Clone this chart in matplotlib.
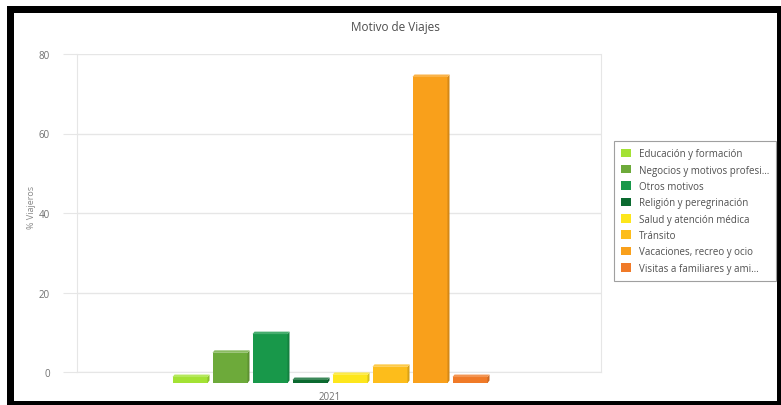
import matplotlib
matplotlib.use('Agg')
import matplotlib.pyplot as plt
from matplotlib.patches import Rectangle, Polygon
from matplotlib.transforms import IdentityTransform
import matplotlib.colors as mcolors
import numpy as np

plt.rcParams['font.family'] = ['Open Sans', 'DejaVu Sans']

title = "Motivo de Viajes"
categories = ["2021"]
series_names = ["Educación y formación", "Negocios y motivos profesi…", "Otros motivos",
                "Religión y peregrinación", "Salud y atención médica", "Tránsito",
                "Vacaciones, recreo y ocio", "Visitas a familiares y ami…"]
values = [1.4, 7.1, 11.5, 0.7, 1.9, 3.8, 72.0, 1.4]
colors = ["#a3e234", "#6daa3a", "#18984a", "#0b6a30", "#fde61c", "#fdbd1b", "#f9a01b", "#f07a28"]
y_ticks = [0, 20, 40, 60, 80]
y_label = "% Viajeros"

W, H = 781, 406
fig = plt.figure(figsize=(W / 100, H / 100), dpi=100)
fig.patch.set_facecolor('white')


def box(x0, y0, x1, y1):
    return [x0 / W, 1 - y1 / H, (x1 - x0) / W, (y1 - y0) / H]


# black frame
for (x0, y0, x1, y1) in [(7, 7, 781, 14), (7, 7, 14, 406), (777, 7, 781, 406), (7, 402, 781, 406)]:
    fig.add_artist(Rectangle((x0 / W, 1 - y1 / H), (x1 - x0) / W, (y1 - y0) / H,
                             transform=fig.transFigure, color='black', lw=0))

# back wall axes
L, R, T, B = 77, 601, 55, 373
ax = fig.add_axes(box(L, T, R, B))
ax.set_facecolor('none')
xl = (-(330 - L) / (R - L), (R - 330) / (R - L))
ax.set_xlim(*xl)
ax.set_ylim(0, 80)
ax.set_yticks(y_ticks)
ax.set_xticks([0])
ax.set_xticklabels(categories)
ax.grid(axis='y', color='#e6e6e6', lw=1)
ax.set_axisbelow(True)
for s in ['left', 'right', 'bottom']:
    ax.spines[s].set_color('#e6e6e6')
ax.spines['top'].set_visible(False)
ax.tick_params(axis='y', length=10, color='#e6e6e6', pad=9.4, labelsize=7, labelcolor='#707070')
ax.tick_params(axis='x', length=0, pad=14, labelsize=7, labelcolor='#707070')

# front plane axes for the bars
scale = 4.25
BB = 384
BT = BB - 80 * scale
axb = fig.add_axes(box(L, BT, R, BB))
axb.set_xlim(*xl)
axb.set_ylim(0, 80)
axb.axis('off')

step = 40 / (R - L)
width = 35 / (R - L)
n = len(values)
handles = []
dx, dy = 2.0, 2.5
for i, (v, c, name) in enumerate(zip(values, colors, series_names)):
    xpos = 0 + (i - (n - 1) / 2) * step
    cont = axb.bar(xpos, v, width=width, color=c, label=name, lw=0, clip_on=False)
    handles.append(cont)
    rect = cont.patches[0]
    rgb = np.array(mcolors.to_rgb(c))
    top_c = rgb * 0.8 + 0.2
    side_c = rgb * 0.85
    (X0, Y0) = axb.transData.transform((rect.get_x(), rect.get_y()))
    (X1, Y1) = axb.transData.transform((rect.get_x() + rect.get_width(), rect.get_y() + rect.get_height()))
    top = Polygon([(X0, Y1), (X1, Y1), (X1 + dx, Y1 + dy), (X0 + dx, Y1 + dy)],
                  closed=True, transform=IdentityTransform(), color=top_c, lw=0, clip_on=False)
    side = Polygon([(X1, Y0), (X1, Y1), (X1 + dx, Y1 + dy), (X1 + dx, Y0 + dy)],
                   closed=True, transform=IdentityTransform(), color=side_c, lw=0, clip_on=False)
    fig.add_artist(side)
    fig.add_artist(top)

# title and y label
fig.text(395 / W, 1 - 27 / H, title, ha='center', va='center', fontsize=8.5, color='#4d4d4d')
fig.text(32 / W, 1 - 207 / H, y_label, rotation=90, ha='center', va='center', fontsize=6.5, color='#888888')

leg = fig.legend(handles=handles, labels=series_names, loc='upper left',
                 bbox_to_anchor=(614 / W, 1 - 142 / H), frameon=True, fancybox=False,
                 edgecolor='#a0a0a0', framealpha=1, fontsize=7.0, labelcolor='#505050',
                 handlelength=0.95, handleheight=0.95, handletextpad=0.85, borderpad=0.75,
                 labelspacing=0.55, borderaxespad=0)
leg.get_frame().set_linewidth(0.8)

fig.savefig('out.png', dpi=100, facecolor='white')
